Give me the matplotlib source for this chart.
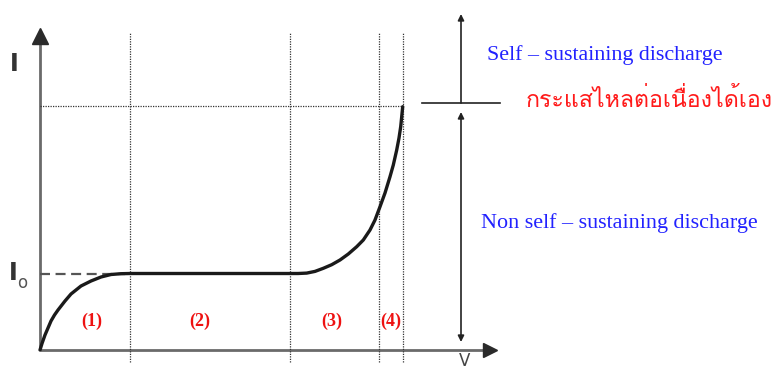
import matplotlib
matplotlib.use("Agg")
import matplotlib.pyplot as plt
from matplotlib import font_manager
from matplotlib.ft2font import FT2Font

# Current-voltage characteristic of a gas discharge (arbitrary units)
curve_v = [0, 2, 5, 11, 14.5, 18, 25, 31, 41, 51, 61, 71, 81, 90,
           250, 258, 266.7, 275, 283.3, 291.7, 300, 308.3, 316.7, 323.3, 330,
           335, 340, 345, 350, 353.3, 356.7, 359, 360.7, 362.7]
curve_i = [0, 6.5, 15, 29, 35, 40, 49, 56, 64, 69, 73, 75.5, 76.3, 76.5,
           76.5, 76.5, 76.9, 78.6, 81.7, 85.3, 90, 96, 103.3, 110, 120,
           130, 143.3, 157, 173.3, 185, 200, 212, 223.3, 243.3]

i_sat = 76.5          # saturation current Io
i_self = 244          # onset of self-sustaining discharge
region_bounds = [90, 250, 339, 363]
region_labels = ["(1)", "(2)", "(3)", "(4)"]
region_centers = [52, 160, 292, 351]

label_self = "Self \u2013 sustaining discharge"
label_non_self = "Non self \u2013 sustaining discharge"
label_thai = "กระแสไหลต่อเนื่องได้เอง"


def thai_family():
    for f in font_manager.fontManager.ttflist:
        try:
            if 0x0E01 in FT2Font(f.fname).get_charmap():
                return f.name
        except Exception:
            continue
    return "DejaVu Sans"


def main():
    fig = plt.figure(figsize=(7.77, 3.71), dpi=100)
    ax = fig.add_axes([0, 0, 1, 1])
    ax.set_xlim(-40, 737)
    ax.set_ylim(-21, 350)
    ax.axis("off")

    axis_grey = "#6a6a6a"
    dark = "#2a2a2a"

    # axes with arrow heads
    ax.plot([0, 0], [0, 310], color=axis_grey, lw=2, solid_capstyle="butt")
    ax.plot([0, 445], [0, 0], color=axis_grey, lw=2, solid_capstyle="butt")
    ax.plot(0, 314.5, marker="^", markersize=11, color=dark, mec=dark)
    ax.plot(450, 0, marker=">", markersize=10, color=dark, mec=dark)

    # region boundaries and reference levels
    for v in region_bounds:
        ax.plot([v, v], [-12, 317], color="#333333", lw=0.9, ls=(0, (1, 1)))
    ax.plot([0, region_bounds[-1]], [i_self, i_self], color="#333333", lw=0.9, ls=(0, (1, 1)))
    ax.plot([0, 85], [i_sat, i_sat], color="#555555", lw=1.6, ls=(0, (4.5, 2.5)))

    # characteristic curve
    ax.plot(curve_v, curve_i, color="#1a1a1a", lw=2.4, solid_joinstyle="round",
            solid_capstyle="round")

    for lab, v in zip(region_labels, region_centers):
        ax.text(v, 29, lab, color="#ee1111", fontsize=13, fontweight="bold",
                family="Liberation Serif", ha="center", va="center")

    # axis labels
    ax.text(-26, 286, "I", color="#333333", fontsize=17, fontweight="bold",
            ha="center", va="center")
    ax.text(-27, 77, "I", color="#333333", fontsize=17, fontweight="bold",
            ha="center", va="center")
    ax.text(-18, 67, "o", color="#555555", fontsize=12, ha="center", va="center")
    ax.text(425, -20.5, "V", color="#444444", fontsize=12, ha="center", va="bottom")

    # discharge regime arrows
    ax.plot([382, 460], [247, 247], color="#222222", lw=1.2)
    ax.annotate("", xy=(421, 336), xytext=(421, 247),
                arrowprops=dict(arrowstyle="-|>", color="#222222", lw=1.2,
                                mutation_scale=9, shrinkA=0, shrinkB=0))
    ax.annotate("", xy=(421, 8), xytext=(421, 238),
                arrowprops=dict(arrowstyle="<|-|>", color="#222222", lw=1.2,
                                mutation_scale=9, shrinkA=0, shrinkB=0))

    ax.text(447, 295, label_self, color="#2222ff", fontsize=15.8,
            family="Liberation Serif", ha="left", va="center")
    ax.text(441, 127, label_non_self, color="#2222ff", fontsize=15.9,
            family="Liberation Serif", ha="left", va="center")
    ax.text(486, 250, label_thai, color="#ff1a1a", fontsize=16.7,
            family=[thai_family(), "DejaVu Sans"], ha="left", va="center")

    fig.savefig("out.png", dpi=100)


if __name__ == "__main__":
    main()
